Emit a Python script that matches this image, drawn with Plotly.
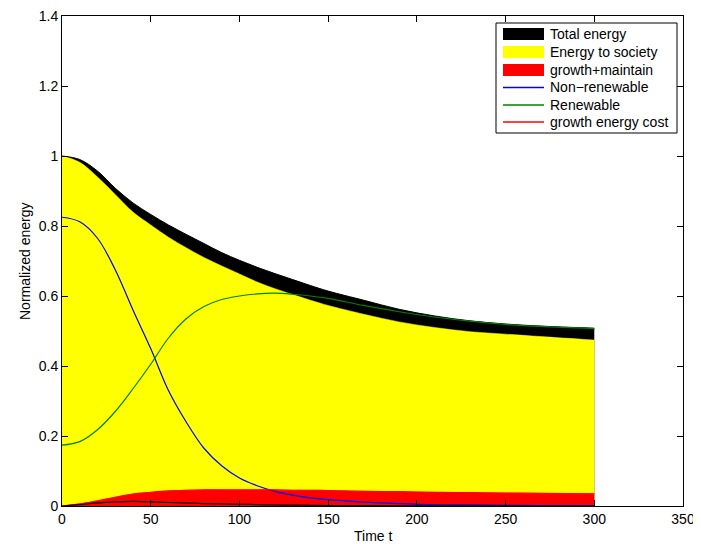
import plotly.graph_objects as go

# time samples
t = [0, 10, 20, 30, 40, 50, 60, 70, 80, 90, 100, 110, 120, 130, 140, 150,
     170, 190, 210, 230, 250, 270, 300]

total_energy = [1.0, 0.99, 0.957, 0.908, 0.866, 0.833, 0.803, 0.776, 0.75, 0.724,
                0.702, 0.682, 0.664, 0.647, 0.63, 0.614, 0.588, 0.562, 0.543,
                0.529, 0.52, 0.514, 0.508]
energy_society = [1.0, 0.982, 0.94, 0.89, 0.84, 0.803, 0.768, 0.738, 0.71, 0.686,
                  0.663, 0.64, 0.621, 0.604, 0.588, 0.573, 0.548, 0.526, 0.51,
                  0.498, 0.491, 0.484, 0.474]
growth_maintain = [0.0, 0.006, 0.015, 0.025, 0.034, 0.039, 0.043, 0.045, 0.046, 0.046,
                   0.046, 0.046, 0.046, 0.045, 0.045, 0.044, 0.042, 0.041, 0.039,
                   0.038, 0.037, 0.036, 0.035]
non_renewable = [0.825, 0.812, 0.765, 0.675, 0.56, 0.45, 0.33, 0.24, 0.165, 0.115,
                 0.08, 0.058, 0.042, 0.031, 0.023, 0.018, 0.011, 0.007, 0.004,
                 0.003, 0.002, 0.001, 0.001]
renewable = [0.174, 0.184, 0.218, 0.27, 0.335, 0.405, 0.48, 0.535, 0.57, 0.59,
             0.60, 0.606, 0.608, 0.605, 0.60, 0.593, 0.573, 0.555, 0.54,
             0.528, 0.519, 0.513, 0.507]
growth_cost = [0.0, 0.004, 0.009, 0.012, 0.013, 0.012, 0.010, 0.009, 0.007, 0.006,
               0.005, 0.004, 0.003, 0.0025, 0.002, 0.0015, 0.001, 0.0007, 0.0004,
               0.0002, 0.0001, 0.0, 0.0]

x_ticks = [0, 50, 100, 150, 200, 250, 300, 350]
y_ticks = [0, 0.2, 0.4, 0.6, 0.8, 1, 1.2, 1.4]

legend_names = ["Total energy", "Energy to society", "growth+maintain",
                "Non\u2212renewable", "Renewable", "growth energy cost"]
legend_colors = ["#000000", "#ffff00", "#ff0000", "#0000ff", "#008000", "#ff0000"]
legend_kinds = ["patch", "patch", "patch", "line", "line", "line"]

FONT = "Liberation Sans, Arial, Helvetica, sans-serif"

fig = go.Figure()
fig.add_trace(go.Scatter(x=t, y=total_energy, name=legend_names[0], mode="lines",
                         fill="tozeroy", fillcolor="black",
                         line=dict(color="black", width=1, shape="spline")))
fig.add_trace(go.Scatter(x=t, y=energy_society, name=legend_names[1], mode="lines",
                         fill="tozeroy", fillcolor="#ffff00",
                         line=dict(color="#ffff00", width=0.5, shape="spline")))
fig.add_trace(go.Scatter(x=t, y=growth_maintain, name=legend_names[2], mode="lines",
                         fill="tozeroy", fillcolor="#ff0000",
                         line=dict(color="#ff0000", width=0.5, shape="spline")))
fig.add_trace(go.Scatter(x=t, y=non_renewable, name=legend_names[3], mode="lines",
                         line=dict(color="#0000ff", width=1.2, shape="spline")))
fig.add_trace(go.Scatter(x=t, y=renewable, name=legend_names[4], mode="lines",
                         line=dict(color="#008000", width=1.2, shape="spline")))
fig.add_trace(go.Scatter(x=t, y=growth_maintain, name=legend_names[5], mode="lines",
                         line=dict(color="#ff0000", width=1.2, shape="spline")))
fig.add_trace(go.Scatter(x=t, y=growth_cost, name="", mode="lines",
                         line=dict(color="black", width=1.2, shape="spline")))

# The page body has an 8px margin, so the figure is drawn at (8, 8) in the window.
OFF = 8
W, H = 701 - OFF, 544 - OFF
# plot-area edges in window pixels
PX0, PX1, PY0, PY1 = 62, 683, 16, 506


def px(xp):
    return (xp - PX0) / (PX1 - PX0)


def py(yp):
    return (PY1 - yp) / (PY1 - PY0)


shapes = [dict(type="rect", xref="paper", yref="paper",
               x0=px(496), x1=px(677), y0=py(133), y1=py(23),
               line=dict(color="black", width=1), fillcolor="white", layer="above")]
annotations = []
row_y = [34, 52, 70, 87.5, 105, 122]
for name, col, kind, yc in zip(legend_names, legend_colors, legend_kinds, row_y):
    if kind == "patch":
        shapes.append(dict(type="rect", xref="paper", yref="paper",
                           x0=px(503), x1=px(544), y0=py(yc + 6), y1=py(yc - 6),
                           line=dict(color=col, width=0), fillcolor=col, layer="above"))
    else:
        shapes.append(dict(type="line", xref="paper", yref="paper",
                           x0=px(503), x1=px(544), y0=py(yc), y1=py(yc),
                           line=dict(color=col, width=1.5), layer="above"))
    annotations.append(dict(xref="paper", yref="paper", x=px(548), y=py(yc),
                            xanchor="left", yanchor="middle", showarrow=False,
                            text=name, font=dict(family=FONT, size=14, color="black")))

annotations.append(dict(xref="paper", yref="paper", x=0.5, y=py(536),
                        xanchor="center", yanchor="middle", showarrow=False,
                        text="Time t", font=dict(family=FONT, size=14, color="black")))
annotations.append(dict(xref="paper", yref="paper", x=px(25), y=0.5,
                        xanchor="center", yanchor="middle", showarrow=False, textangle=-90,
                        text="Normalized energy", font=dict(family=FONT, size=14, color="black")))

axis_common = dict(showline=True, linecolor="black", linewidth=1, mirror="ticks",
                   ticks="inside", ticklen=6, tickcolor="black", showgrid=False,
                   zeroline=False, automargin=False, ticklabeloverflow="allow",
                   tickfont=dict(family=FONT, size=14, color="black"))

fig.update_layout(
    width=W, height=H,
    margin=dict(l=PX0 - OFF, r=W - (PX1 - OFF), t=PY0 - OFF, b=H - (PY1 - OFF)),
    paper_bgcolor="white", plot_bgcolor="white",
    font=dict(family=FONT, size=14, color="black"),
    xaxis=dict(range=[0, 350], tickvals=x_ticks, **axis_common),
    yaxis=dict(range=[0, 1.4], tickvals=y_ticks, **axis_common),
    showlegend=False,
    shapes=shapes,
    annotations=annotations,
)

fig.write_html("out.html")
